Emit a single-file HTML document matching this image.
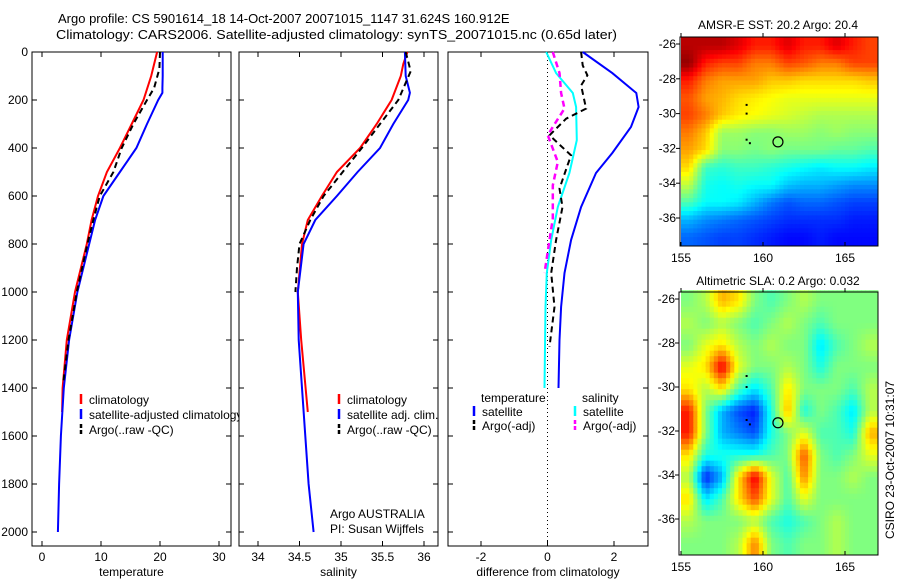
<!DOCTYPE html>
<html><head><meta charset="utf-8"><style>
body{margin:0;background:#fff}
svg{display:block;font-family:"Liberation Sans",sans-serif}
text{font-size:12px;fill:#000}
</style></head><body>
<svg id="c" width="900" height="580" viewBox="0 0 900 580">
<text x="58" y="23" style="font-size:13px">Argo profile: CS 5901614_18 14-Oct-2007 20071015_1147 31.624S 160.912E</text>
<text x="56" y="39" style="font-size:13px" textLength="561" lengthAdjust="spacingAndGlyphs">Climatology: CARS2006. Satellite-adjusted climatology: synTS_20071015.nc (0.65d later)</text>
</svg>
<script>
// ---- profile data ----
const depthT=[0,50,100,150,170,200,300,400,500,600,700,800,1000,1200,1400,1600,1800,2000];
const tSat=[20.45,20.45,20.45,20.4,20.4,19.7,17.8,16.0,13.2,10.4,9.0,8.0,6.0,4.6,3.7,3.2,2.9,2.7];
const depthTc=[0,100,200,300,400,500,600,700,800,1000,1200,1400,1500];
const tClim=[19.5,18.5,17.2,15.2,13.2,11.0,9.5,8.4,7.6,5.6,4.2,3.5,3.4];
const depthTa=[0,70,150,200,300,400,500,600,700,800,1000,1200,1380];
const tArgo=[20.0,19.9,19.0,17.8,15.5,13.5,12.1,9.8,8.7,7.7,5.9,4.5,3.6];
const depthS=[0,100,170,200,300,400,500,600,700,800,1000,1200,1400,1600,1800,2000];
const sSat=[35.77,35.78,35.83,35.81,35.63,35.47,35.2,34.95,34.69,34.55,34.48,34.49,34.53,34.57,34.61,34.67];
const depthSc=[0,50,100,200,300,400,500,600,700,800,1000,1200,1500];
const sClim=[35.8,35.75,35.72,35.61,35.43,35.23,34.95,34.77,34.6,34.53,34.48,34.52,34.6];
const depthSa=[0,80,200,300,400,500,600,700,800,900,1000];
const sArgo=[35.78,35.84,35.69,35.47,35.25,35.02,34.79,34.63,34.5,34.47,34.45];
const depthD=[0,88,171,229,312,421,504,646,783,921,1062,1200,1400];
const dTSat=[1.06,1.95,2.67,2.74,2.51,1.95,1.46,1.01,0.71,0.51,0.41,0.36,0.33];
const depthDs=[0,88,171,229,367,504,646,783,921,1062,1400];
const dSSat=[-0.04,0.26,0.76,0.86,0.88,0.66,0.31,0.11,-0.02,-0.06,-0.09];
const depthDa=[0,56,97,139,236,278,347,431,472,569,646,783,921,1062,1228];
const dTArgo=[1.01,1.06,1.2,1.01,1.16,0.56,0.06,0.71,0.6,0.36,0.45,0.26,0.11,0.21,0.06];
const depthDm=[0,88,171,236,312,347,458,556,694,783,894,921];
const dSArgo=[0.16,0.36,0.41,0.51,0.16,0.01,0.31,0.16,0.16,0.06,-0.06,-0.09];
const depthTicks=[0,200,400,600,800,1000,1200,1400,1600,1800,2000];
const tTicks=[0,10,20,30];
const sTicks=[34,34.5,35,35.5,36];
const dTicks=[-2,0,2];
// ---- map data ----
const lonTicks=[155,160,165];
const latTicks=[-26,-28,-30,-32,-34,-36];
const sst=[
[22,22,22,21.8,21.5,21.5,21.8,21.5,21.5,21.8,21.5,21.3],
[22.2,21.5,21.3,21.3,21,21,21.3,21.2,21,21,21.3,21.3],
[21.5,21,20.8,20.8,20.8,20.6,20.6,20.5,20.5,20.5,20.5,20.6],
[21.2,20.8,20.7,20.5,20.4,20.3,20.2,20.2,20.2,20.2,20.2,20.2],
[21.3,21,20.6,20.4,20.3,20.2,20.1,20,19.9,19.9,19.9,19.9],
[21,20.6,19.8,19.8,19.7,19.7,19.8,19.8,19.7,19.8,19.7,19.7],
[20.8,20.5,19.7,19.7,19.6,19.7,19.6,19.6,19.6,19.5,19.5,19.4],
[20.5,19.3,19.2,19.3,19.3,19.2,19.1,19,18.9,19,19,18.9],
[20,19.1,19,19.1,19,19,18.7,18.6,18.6,18.5,18.4,18.4],
[19.4,19,19,18.9,18.6,18.3,18.1,18.2,18.2,18.1,18,18],
[18.6,18.4,18.3,18.2,18.1,18,17.9,17.9,17.9,17.9,17.8,17.8],
[18.2,18.1,18,18,17.9,17.8,17.7,17.7,17.8,17.7,17.7,17.7]];
const sla=[
[0,0.1,0.4,0.3,0,-0.1,0,0.1,0,0,0,0],
[0.1,0,0.1,0,-0.1,0,0.1,0,-0.1,0,0,0],
[0,0.2,0.3,0.1,0,0.1,0,0,-0.3,-0.1,0,0.1],
[0.2,0.3,0.8,0.2,0,0,0.1,0,-0.2,0,0,0],
[0.3,0.1,0.3,-0.1,-0.3,-0.1,0.3,0,0,0,-0.1,0.1],
[0.7,0,-0.4,-0.6,-0.7,-0.2,0.4,-0.2,0,-0.1,-0.3,0.1],
[0.7,0,-0.4,-0.5,-0.6,-0.2,0,0.2,-0.1,-0.1,-0.2,0.4],
[0.3,-0.2,-0.2,-0.2,-0.2,-0.1,0,0.6,0,-0.1,0,0.2],
[0.1,-0.7,-0.4,0.3,0.8,0.2,-0.1,0.5,0,0,0.1,0],
[0.3,-0.3,-0.1,0.3,0.6,0.2,-0.1,0.2,0,0,0,0],
[0.1,0,0,0,0.1,-0.1,-0.2,-0.1,0,0.1,0,0],
[0,0,0,0.1,0.5,0,-0.1,0,0,0.1,0,0]];
const floatLon=[160.912], floatLat=[-31.624];
const trackLon=[159,159,159,159.2], trackLat=[-29.5,-30,-31.5,-31.7];

const svg=document.getElementById('c');
const NS='http://www.w3.org/2000/svg';
function mk(tag,at,parent){const e=document.createElementNS(NS,tag);for(const k in at)e.setAttribute(k,at[k]);(parent||svg).appendChild(e);return e;}
function txt(x,y,s,anchor,parent){const t=mk('text',{x:x,y:y,'text-anchor':anchor||'start'},parent);t.textContent=s;return t;}
function lin(d0,d1,r0,r1){return v=>r0+(v-d0)*(r1-r0)/(d1-d0);}
const Y=lin(0,2000,52,532);

function panel(name,x0,x1,X,xt,xl,xlab,yl){
  const g=mk('g',{});
  
  
  mk('rect',{x:x0,y:52,width:x1-x0,height:494,fill:'#fff',stroke:'#000','stroke-width':1},g);
  xt.forEach((v,i)=>{const x=X(v);
    mk('line',{x1:x,x2:x,y1:546,y2:541,stroke:'#000'},g);
    mk('line',{x1:x,x2:x,y1:52,y2:57,stroke:'#000'},g);
    const t=txt(x,561,xl[i],'middle',g);
    
    });
  depthTicks.forEach(d=>{const y=Y(d);
    mk('line',{x1:x0,x2:x0+5,y1:y,y2:y,stroke:'#000'},g);
    mk('line',{x1:x1,x2:x1-5,y1:y,y2:y,stroke:'#000'},g);
    if(yl){const t=txt(x0-4,y+4,String(d),'end',g);
      
      }});
  const t=txt((x0+x1)/2,576,xlab,'middle',g);
  
  
  return g;
}
function series(g,name,X,xs,ds,color,dash,w){
  const p=xs.map((v,i)=>X(v).toFixed(1)+','+Y(ds[i]).toFixed(1)).join(' ');
  const e=mk('polyline',{points:p,fill:'none',stroke:color,'stroke-width':w||2,'stroke-dasharray':dash||'none'},g);
  
  
}
function legend(g,x,y,color,dash,label){
  const m=mk('line',{x1:x,x2:x,y1:y-10,y2:y,stroke:color,'stroke-width':2.5,'stroke-dasharray':dash?'4,2':'none'},g);
  
  
  const t=txt(x+8,y,label,'start',g);
  
  
}
// panel 1
const XT=lin(0,30,42,219);
const g1=panel('temperature-panel',32,231,XT,tTicks,['0','10','20','30'],'temperature',true);
series(g1,'temp-climatology-line',XT,tClim,depthTc,'#f00');
series(g1,'temp-satellite-line',XT,tSat,depthT,'#00f');
series(g1,'temp-argo-line',XT,tArgo,depthTa,'#000','6,4');
legend(g1,81,404,'#f00',0,'climatology');
legend(g1,81,419,'#00f',0,'satellite-adjusted climatology');
legend(g1,81,434,'#000',1,'Argo(..raw -QC)');
// panel 2
const XS=lin(34,36,258,424);
const g2=panel('salinity-panel',239,438,XS,sTicks,['34','34.5','35','35.5','36'],'salinity',false);
series(g2,'sal-climatology-line',XS,sClim,depthSc,'#f00');
series(g2,'sal-satellite-line',XS,sSat,depthS,'#00f');
series(g2,'sal-argo-line',XS,sArgo,depthSa,'#000','6,4');
legend(g2,339,404,'#f00',0,'climatology');
legend(g2,339,419,'#00f',0,'satellite adj. clim.');
legend(g2,339,434,'#000',1,'Argo(..raw -QC)');
const a1=txt(330,518,'Argo AUSTRALIA','start',g2);


const a2=txt(330,533,'PI: Susan Wijffels','start',g2);


// panel 3
const XD=lin(-2,2,481,614);
const g3=panel('difference-panel',448,648,XD,dTicks,['-2','0','2'],'difference from climatology',false);
const zl=mk('line',{x1:XD(0),x2:XD(0),y1:52,y2:546,stroke:'#000','stroke-dasharray':'1,3'},g3);


series(g3,'diff-temp-satellite-line',XD,dTSat,depthD,'#00f');
series(g3,'diff-sal-satellite-line',XD,dSSat,depthDs,'#0ff');
series(g3,'diff-temp-argo-line',XD,dTArgo,depthDa,'#000','6,4');
series(g3,'diff-sal-argo-line',XD,dSArgo,depthDm,'#f0f','6,4',2.5);
const lt=txt(481,402,'temperature','start',g3);


const ls=txt(582,402,'salinity','start',g3);


legend(g3,474,416,'#00f',0,'satellite');
legend(g3,474,430,'#000',1,'Argo(-adj)');
legend(g3,575,416,'#0ff',0,'satellite');
legend(g3,575,430,'#f0f',1,'Argo(-adj)');

// maps
function jet(v){v=Math.max(0,Math.min(1,v));
  const r=Math.max(0,Math.min(1,1.5-Math.abs(4*v-3))),g=Math.max(0,Math.min(1,1.5-Math.abs(4*v-2))),b=Math.max(0,Math.min(1,1.5-Math.abs(4*v-1)));
  return 'rgb('+Math.round(r*255)+','+Math.round(g*255)+','+Math.round(b*255)+')';}
function sample(grid,fi,fj){
  const R=grid.length,C=grid[0].length;
  fi=Math.max(0,Math.min(R-1,fi)); fj=Math.max(0,Math.min(C-1,fj));
  const i0=Math.floor(fi),j0=Math.floor(fj),i1=Math.min(R-1,i0+1),j1=Math.min(C-1,j0+1);
  const a=fi-i0,b=fj-j0;
  return grid[i0][j0]*(1-a)*(1-b)+grid[i0][j1]*(1-a)*b+grid[i1][j0]*a*(1-b)+grid[i1][j1]*a*b;
}
function map(name,grid,vmin,vmax,x0,x1,y0,y1,LY,title,ty){
  const g=mk('g',{});
  
  
  const LX=lin(155,165,681,845);
  const rows=grid.length, cols=grid[0].length;
  const latTop=-25.6, latBot=-37.6;
  const S=4;
  for(let i=0;i<rows*S;i++)for(let j=0;j<cols*S;j++){
    const v=sample(grid,(i+0.5)/S-0.5,(j+0.5)/S-0.5);
    const xa=LX(155+j/S), xb=LX(155+(j+1)/S);
    const ya=LY(latTop-i/S*(latTop-latBot)/rows), yb=LY(latTop-(i+1)/S*(latTop-latBot)/rows);
    const c=mk('rect',{x:xa.toFixed(1),y:ya.toFixed(1),width:(xb-xa+0.6).toFixed(1),height:(yb-ya+0.6).toFixed(1),fill:jet((v-vmin)/(vmax-vmin))},g);
    
    
  }
  mk('rect',{x:x0,y:y0,width:x1-x0,height:y1-y0,fill:'none',stroke:'#000'},g);
  lonTicks.forEach(l=>{const x=LX(l);
    mk('line',{x1:x,x2:x,y1:y1,y2:y1-4,stroke:'#000'},g);
    mk('line',{x1:x,x2:x,y1:y0,y2:y0-4,stroke:'#000'},g);
    const t=txt(x,y1+16,String(l),'middle',g);
    
    });
  latTicks.forEach(l=>{const y=LY(l);
    mk('line',{x1:x0,x2:x0-4,y1:y,y2:y,stroke:'#000'},g);
    const t=txt(x0-4,y+4,String(l),'end',g);
    
    });
  trackLon.forEach((l,i)=>{const d=mk('rect',{x:LX(l)-1,y:LY(trackLat[i])-1,width:2,height:2,fill:'#000'},g);
    
    });
  const c=mk('circle',{cx:LX(floatLon[0]),cy:LY(floatLat[0]),r:5,fill:'none',stroke:'#000','stroke-width':1.2},g);
  
  
  const t=txt(778,ty,title,'middle',g);
  
  
}
map('sst-map',sst,17.0,22.3,680,878,37,246,lin(-26,-36,44,218),'AMSR-E SST: 20.2 Argo: 20.4',29);
map('sla-map',sla,-1,1,679,878,292,555,lin(-26,-36,299,519),'Altimetric SLA: 0.2 Argo: 0.032',285);
const cs=txt(0,0,'CSIRO 23-Oct-2007 10:31:07','middle');
cs.setAttribute('transform','translate(894,460) rotate(-90)');


</script>
</body></html>
